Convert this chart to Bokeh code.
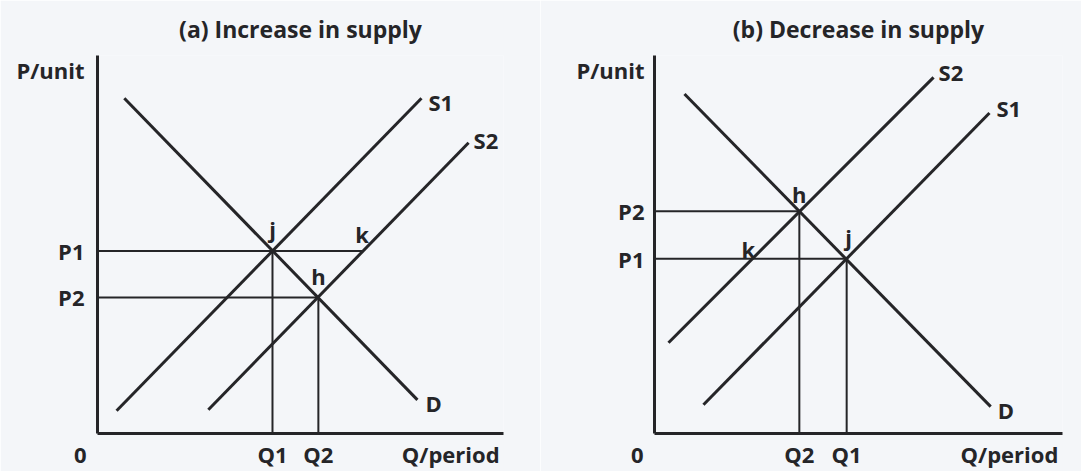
from bokeh.plotting import figure
from bokeh.models import FixedTicker, ColumnDataSource
from bokeh.layouts import row
from bokeh.embed import file_html
from bokeh.resources import INLINE
from bokeh.core.properties import value

BG = "#f4f6f9"
INK = "#252528"
FONT = "Open Sans"
FS = "22px"
NB = "\u00a0"

# axis captions (placed as ticks on the library's axes)
p_caption, p_caption_at = "P/unit", 9.61
q_caption, q_caption_at = "Q/period", 8.70
origin_label = "0"

# ---------------- panel (a): increase in supply ----------------
a_title = "(a) Increase in supply"
a_D_q = [0.66, 7.88]
a_D_p = [8.87, 0.89]
a_S1_q = [0.47, 7.98]
a_S1_p = [0.60, 8.87]
a_S2_q = [2.73, 9.14]
a_S2_p = [0.63, 7.69]
a_P = [4.83, 3.60]          # P1, P2
a_P_labels = ["P1", "P2"]
a_Q = [4.31, 5.44]          # Q1, Q2
a_Q_labels = ["Q1", "Q2"]
a_k_q = 6.54                # quantity supplied on S2 at P1

# ---------------- panel (b): decrease in supply ----------------
b_title = "(b) Decrease in supply"
b_D_q = [0.735, 8.24]
b_D_p = [8.98, 0.71]
b_S1_q = [1.20, 8.21]
b_S1_p = [0.76, 8.48]
b_S2_q = [0.343, 6.84]
b_S2_p = [2.40, 9.42]
b_P = [4.62, 5.88]          # P1, P2
b_P_labels = ["P1", "P2"]
b_Q = [4.71, 3.55]          # Q1, Q2
b_Q_labels = ["Q1", "Q2"]
b_k_q = 2.40                # quantity supplied on S2 at P1


def make_panel(title, width, bl, br, ystand, curves, curve_names, curve_dx, curve_dy,
               P, P_labels, Q, Q_labels, hsegs, vsegs, pts, pt_names, pt_dx, pt_dy):
    p = figure(width=width, height=471, x_range=(0, 10), y_range=(0, 10),
               output_backend="svg", toolbar_location=None,
               min_border_left=bl, min_border_right=br,
               min_border_top=55, min_border_bottom=35,
               background_fill_color=BG, border_fill_color=BG,
               outline_line_color=None)
    p.title.text = title
    p.title.align = "center"
    p.title.text_font = FONT
    p.title.text_font_size = "23px"
    p.title.text_font_style = "bold"
    p.title.text_color = INK
    p.title.standoff = 21
    p.grid.visible = False

    for ax in (p.xaxis[0], p.yaxis[0]):
        ax.axis_line_width = 3
        ax.axis_line_color = INK
        ax.major_tick_line_color = None
        ax.minor_tick_line_color = None
        ax.major_tick_out = 0
        ax.major_tick_in = 0
        ax.axis_label_standoff = 0
        ax.major_label_text_font = FONT
        ax.major_label_text_font_size = FS
        ax.major_label_text_font_style = "bold"
        ax.major_label_text_color = INK

    yt = list(P) + [p_caption_at]
    p.yaxis.ticker = FixedTicker(ticks=yt)
    p.yaxis.major_label_overrides = dict(zip(yt, list(P_labels) + [p_caption]))
    p.yaxis.major_label_standoff = ystand

    xt = [0] + list(Q) + [q_caption_at]
    p.xaxis.ticker = FixedTicker(ticks=xt)
    p.xaxis.major_label_overrides = dict(zip(xt, [origin_label + NB * 6] + list(Q_labels) + [q_caption]))
    p.xaxis.major_label_standoff = 5

    # guide lines
    hx0 = [s[0] for s in hsegs]; hx1 = [s[1] for s in hsegs]; hy = [s[2] for s in hsegs]
    p.segment(x0=hx0, y0=hy, x1=hx1, y1=hy, line_width=2, line_color=INK)
    vx = [s[0] for s in vsegs]; vy0 = [s[1] for s in vsegs]; vy1 = [s[2] for s in vsegs]
    p.segment(x0=vx, y0=vy0, x1=vx, y1=vy1, line_width=2, line_color=INK)

    # curves
    for q, pr in curves:
        p.line(q, pr, line_width=3, line_color=INK)

    # curve labels at the line ends
    ends = [(q[1], pr[1]) for q, pr in curves]
    src = ColumnDataSource(dict(x=[e[0] for e in ends], y=[e[1] for e in ends],
                                t=curve_names, dx=curve_dx, dy=curve_dy))
    p.text(x="x", y="y", text="t", x_offset="dx", y_offset="dy", source=src,
           text_font=value(FONT), text_font_size=FS, text_font_style="bold",
           text_color=INK, text_align="left", text_baseline="middle")

    # equilibrium point labels
    src2 = ColumnDataSource(dict(x=[a[0] for a in pts], y=[a[1] for a in pts],
                                 t=pt_names, dx=pt_dx, dy=pt_dy))
    p.text(x="x", y="y", text="t", x_offset="dx", y_offset="dy", source=src2,
           text_font=value(FONT), text_font_size=FS, text_font_style="bold",
           text_color=INK, text_align="center", text_baseline="alphabetic")
    return p


pa = make_panel(
    a_title, 540, 97, 37, 13,
    [(a_S1_q, a_S1_p), (a_S2_q, a_S2_p), (a_D_q, a_D_p)], ["S1", "S2", "D"],
    [7, 5, 8], [4, -3, 3],
    a_P, a_P_labels, a_Q, a_Q_labels,
    [(0, a_k_q, a_P[0]), (0, a_Q[1], a_P[1])],
    [(a_Q[0], 0, a_P[0]), (a_Q[1], 0, a_P[1])],
    [(a_Q[0], a_P[0]), (a_k_q, a_P[0]), (a_Q[1], a_P[1])], ["j", "k", "h"],
    [0, -1, 0], [-22, -17, -21])

pb = make_panel(
    b_title, 541, 114, 19, 10,
    [(b_S2_q, b_S2_p), (b_S1_q, b_S1_p), (b_D_q, b_D_p)], ["S2", "S1", "D"],
    [5, 7, 7], [-5, -5, 3],
    b_P, b_P_labels, b_Q, b_Q_labels,
    [(0, b_Q[1], b_P[1]), (0, b_Q[0], b_P[0])],
    [(b_Q[1], 0, b_P[1]), (b_Q[0], 0, b_P[0])],
    [(b_Q[1], b_P[1]), (b_Q[0], b_P[0]), (b_k_q, b_P[0])], ["h", "j", "k"],
    [0, 2, -4], [-17, -22, -10])

layout = row(pa, pb)
open("out.html", "w").write(file_html(layout, INLINE))
